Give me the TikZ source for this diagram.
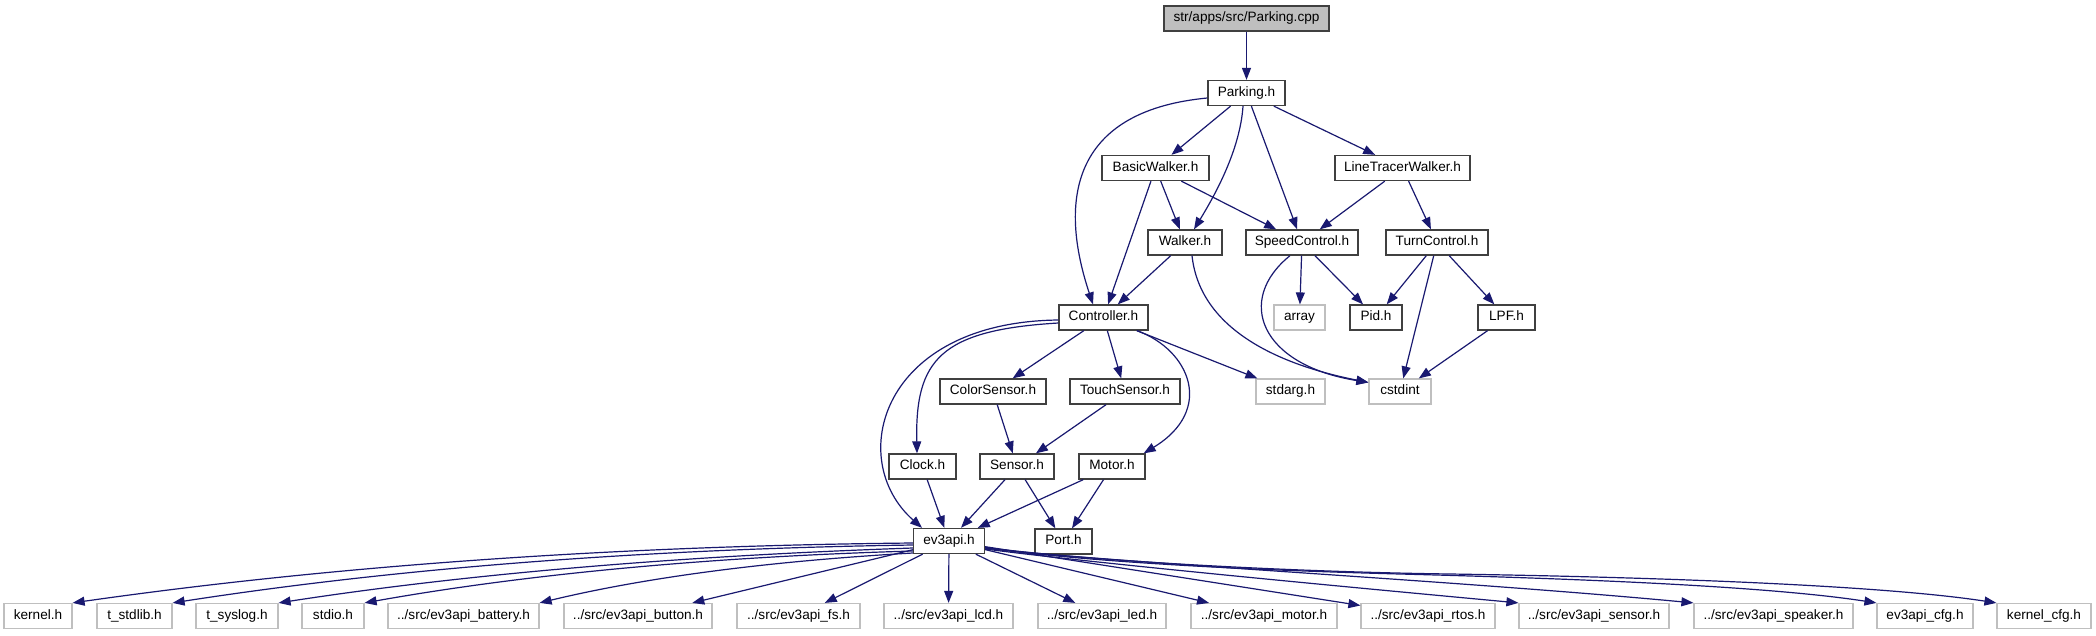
\documentclass[tikz,border=0pt]{standalone}
\usepackage{fontspec}
\setmainfont{Liberation Sans}
\usetikzlibrary{arrows.meta}
\definecolor{edgeblue}{HTML}{191970}
\definecolor{boxdark}{HTML}{404040}
\definecolor{boxgray}{HTML}{BFBFBF}
\definecolor{cppfill}{HTML}{BFBFBF}
\tikzset{
  box/.style={draw=boxdark, line width=1.3pt, fill=white, inner sep=0pt,
    minimum height=25pt, text height=9.7pt, text depth=2.9pt,
    font=\fontsize{13.6}{15}\selectfont, text=black},
  gbox/.style={box, draw=boxgray, line width=1.2pt},
  edge/.style={draw=edgeblue, line width=1.2pt, -{Triangle[length=12pt,width=9pt]}},
}
\begin{document}
\begin{tikzpicture}[x=1pt,y=-1pt]
\fill[white] (0,0) rectangle (2096,635);
\useasboundingbox (0,0) rectangle (2096,635);
% upper nodes
\node[box, minimum width=165pt, fill=cppfill] (cpp) at (1246.5,18.5) {str/apps/src/Parking.cpp};
\node[box, minimum width=77pt] (parkh) at (1246.5,93) {Parking.h};
\node[box, minimum width=107pt] (basic) at (1155.5,168) {BasicWalker.h};
\node[box, minimum width=135pt] (ltw) at (1402.5,168) {LineTracerWalker.h};
\node[box, minimum width=74pt] (walker) at (1185,242.5) {Walker.h};
\node[box, minimum width=112pt] (speed) at (1302,242.5) {SpeedControl.h};
\node[box, minimum width=102pt] (turn) at (1437,242.5) {TurnControl.h};
\node[box, minimum width=89pt] (ctrl) at (1103.5,317.5) {Controller.h};
\node[gbox, minimum width=51pt] (array) at (1299.5,317.5) {array};
\node[box, minimum width=52pt] (pid) at (1376,317.5) {Pid.h};
\node[box, minimum width=57pt] (lpf) at (1506.5,317.5) {LPF.h};
\node[box, minimum width=106pt] (color) at (993,391.5) {ColorSensor.h};
\node[box, minimum width=110pt] (touch) at (1125,391.5) {TouchSensor.h};
\node[gbox, minimum width=69pt] (stdarg) at (1290.5,391.5) {stdarg.h};
\node[gbox, minimum width=62pt] (cstdint) at (1400,391.5) {cstdint};
\node[box, minimum width=67pt] (clock) at (922.5,466.5) {Clock.h};
\node[box, minimum width=74pt] (sensor) at (1017,466.5) {Sensor.h};
\node[box, minimum width=66pt] (motor) at (1112,466.5) {Motor.h};
\node[box, minimum width=71pt] (ev3) at (949,541) {ev3api.h};
\node[box, minimum width=57pt] (port) at (1063.5,541.5) {Port.h};
% bottom row
\node[gbox, minimum width=68pt] (kernel) at (38,616) {kernel.h};
\node[gbox, minimum width=75pt] (tstdlib) at (134.5,616) {t\_stdlib.h};
\node[gbox, minimum width=82pt] (tsyslog) at (237,616) {t\_syslog.h};
\node[gbox, minimum width=62pt] (stdio) at (333,616) {stdio.h};
\node[gbox, minimum width=151pt] (battery) at (463.5,616) {../src/ev3api\_battery.h};
\node[gbox, minimum width=148pt] (button) at (638,616) {../src/ev3api\_button.h};
\node[gbox, minimum width=123pt] (fs) at (798.5,616) {../src/ev3api\_fs.h};
\node[gbox, minimum width=129pt] (lcd) at (948.5,616) {../src/ev3api\_lcd.h};
\node[gbox, minimum width=128pt] (led) at (1102,616) {../src/ev3api\_led.h};
\node[gbox, minimum width=146pt] (motorapi) at (1264,616) {../src/ev3api\_motor.h};
\node[gbox, minimum width=134pt] (rtos) at (1428,616) {../src/ev3api\_rtos.h};
\node[gbox, minimum width=150pt] (sensorapi) at (1594,616) {../src/ev3api\_sensor.h};
\node[gbox, minimum width=159pt] (speaker) at (1773.5,616) {../src/ev3api\_speaker.h};
\node[gbox, minimum width=96pt] (cfg) at (1925,616) {ev3api\_cfg.h};
\node[gbox, minimum width=94pt] (kcfg) at (2044,616) {kernel\_cfg.h};
% straight edges
\draw[edge] (cpp) -- (parkh);
\draw[edge] (parkh) -- (basic);
\draw[edge] (parkh) -- (speed);
\draw[edge] (parkh) -- (ltw);
\draw[edge] (basic) -- (walker);
\draw[edge] (basic) -- (speed);
\draw[edge] (basic) -- (ctrl);
\draw[edge] (ltw) -- (speed);
\draw[edge] (ltw) -- (turn);
\draw[edge] (walker) -- (ctrl);
\draw[edge] (speed) -- (array);
\draw[edge] (speed) -- (pid);
\draw[edge] (turn) -- (pid);
\draw[edge] (turn) -- (cstdint);
\draw[edge] (turn) -- (lpf);
\draw[edge] (lpf) -- (cstdint);
\draw[edge] (ctrl) -- (color);
\draw[edge] (ctrl) -- (touch);
\draw[edge] (ctrl) -- (stdarg);
\draw[edge] (color) -- (sensor);
\draw[edge] (touch) -- (sensor);
\draw[edge] (clock) -- (ev3);
\draw[edge] (sensor) -- (ev3);
\draw[edge] (sensor) -- (port);
\draw[edge] (motor) -- (ev3);
\draw[edge] (motor) -- (port);
% curved edges
\draw[edge] ([yshift=-5pt]parkh.west) .. controls (1080,110) and (1055,190) .. ([xshift=-10.5pt]ctrl.north);
\draw[edge] ([xshift=-3.5pt]parkh.south) .. controls (1240,150) and (1215,195) .. ([xshift=9pt]walker.north);
\draw[edge] ([xshift=7pt]walker.south) .. controls (1200,330) and (1280,365) .. ([yshift=-4pt]cstdint.north west);
\draw[edge] ([xshift=-12pt]speed.south) .. controls (1235,300) and (1260,365) .. ([yshift=-4pt]cstdint.north west);
\draw[edge] ([yshift=-2.5pt]ctrl.west) .. controls (880,322) and (845,460) .. ([xshift=-27pt]ev3.north);
\draw[edge] ([yshift=-5.5pt]ctrl.west) .. controls (940,330) and (915,360) .. ([xshift=-5.5pt]clock.north);
\draw[edge] ([xshift=33.5pt]ctrl.south) .. controls (1190,350) and (1215,410) .. ([xshift=-2pt]motor.north east);
% bottom fan
\draw[edge] ([yshift=-2pt]ev3.west) .. controls (604,546) and (324,567) .. (kernel.north east);
\draw[edge] ([yshift=-4pt]ev3.west) .. controls (638,549) and (391,569) .. (tstdlib.north east);
\draw[edge] ([yshift=-7pt]ev3.west) .. controls (678,556) and (466,574) .. (tsyslog.north east);
\draw[edge] ([yshift=-10pt]ev3.west) .. controls (704,557) and (521,575) .. (stdio.north east);
\draw[edge] ([yshift=-12pt]ev3.west) .. controls (771,561) and (647,577) .. (battery.north east);
\draw[edge] (ev3) -- (button);
\draw[edge] (ev3) -- (fs);
\draw[edge] (ev3) -- (lcd);
\draw[edge] (ev3) -- (led);
\draw[edge] (ev3) -- (motorapi);
\draw[edge] (ev3) -- (rtos);
\draw[edge] ([yshift=-8pt]ev3.east) .. controls (1100,564) and (1380,590) .. (sensorapi.north west);
\draw[edge] ([yshift=-7pt]ev3.east) .. controls (1100,562) and (1450,580) .. (speaker.north west);
\draw[edge] ([yshift=-7pt]ev3.east) .. controls (1100,563) and (1250,570) .. (1400,574) .. controls (1550,578) and (1760,585) .. (cfg.north west);
\draw[edge] ([yshift=-6.5pt]ev3.east) .. controls (1100,562) and (1300,572) .. (1450,574) .. controls (1650,577) and (1880,585) .. (kcfg.north west);
\end{tikzpicture}
\end{document}
